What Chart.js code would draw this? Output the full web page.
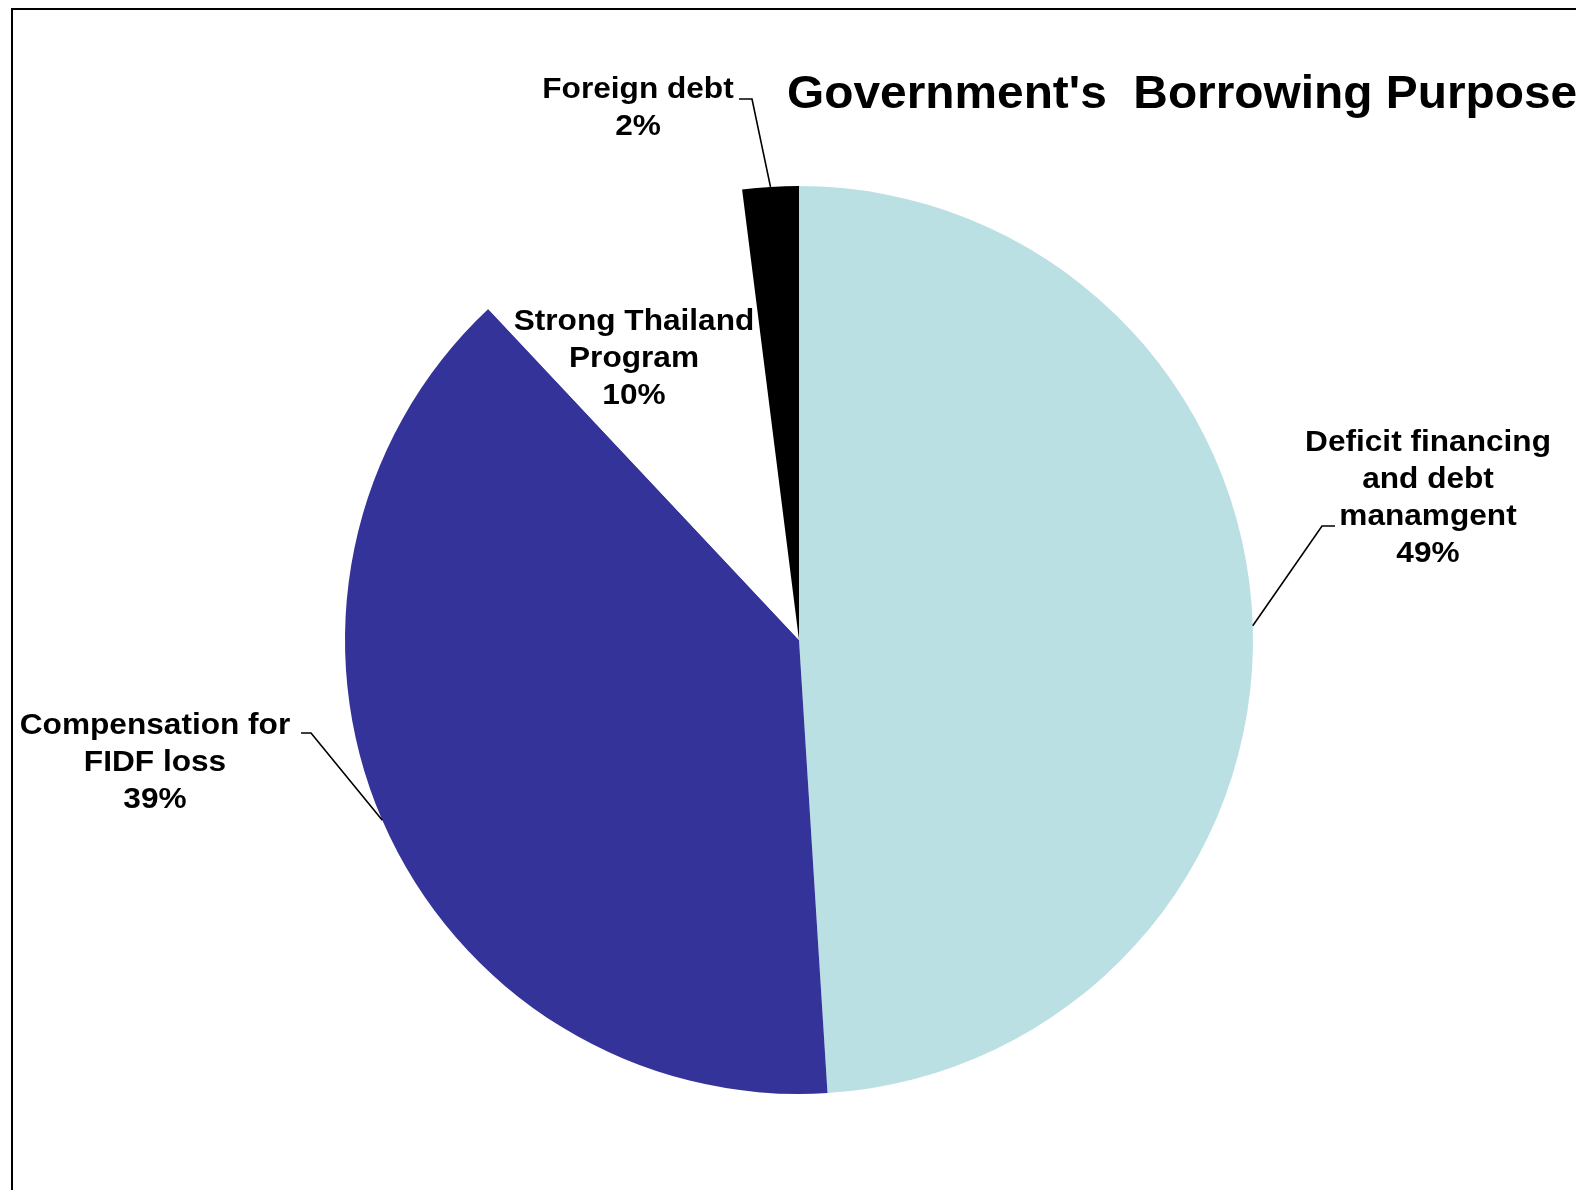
<!DOCTYPE html>
<html>
<head>
<meta charset="utf-8">
<title>Government's Borrowing Purpose</title>
<script src="https://cdn.jsdelivr.net/npm/chart.js@4/dist/chart.umd.min.js"></script>
<style>
  html, body { margin: 0; padding: 0; background: #fff; overflow: hidden; }
  #wrap { position: relative; width: 1576px; height: 1190px; }
</style>
</head>
<body>
<div id="wrap"><canvas id="borrowingChart" width="1576" height="1190"></canvas></div>
<script>
// data
const categories = [
  ['Deficit financing', 'and debt', 'manamgent'],
  ['Compensation for', 'FIDF loss'],
  ['Strong Thailand', 'Program'],
  ['Foreign debt']
];
const shares = [49, 39, 10, 2];
const sliceColors = ['#BBE0E3', '#333399', '#FFFFFF', '#000000'];
const chartTitle = "Government's  Borrowing Purpose";

// label placement, offsets from pie centre (first text line centre, leader knee, tick direction)
const labelLayout = [
  { dx: 629, dy: -197, knee: [523, -114], tick: 13, leader: true },
  { dx: -644, dy: 86, knee: [-488, 93], tick: -10, leader: true },
  { dx: -165, dy: -318, leader: false },
  { dx: -161, dy: -550, knee: [-47, -541], tick: -13, leader: true }
];

const FONT = '"Liberation Sans", Arial, sans-serif';

const decorPlugin = {
  id: 'decor',
  beforeDraw(chart) {
    const ctx = chart.ctx;
    ctx.save();
    ctx.fillStyle = '#fff';
    ctx.fillRect(0, 0, chart.width, chart.height);
    ctx.restore();
  },
  afterDraw(chart) {
    const ctx = chart.ctx;
    const meta = chart.getDatasetMeta(0);
    const total = shares.reduce((a, b) => a + b, 0);

    ctx.save();
    // frame
    ctx.strokeStyle = '#000';
    ctx.lineWidth = 2;
    ctx.beginPath();
    ctx.moveTo(12, chart.height + 5);
    ctx.lineTo(12, 9);
    ctx.lineTo(chart.width + 5, 9);
    ctx.stroke();

    // title (slightly wide lettering, as in the original)
    ctx.fillStyle = '#000';
    ctx.font = 'bold 46px ' + FONT;
    ctx.textAlign = 'left';
    ctx.textBaseline = 'alphabetic';
    ctx.save();
    ctx.translate(787, 108);
    ctx.scale(1.04, 1);
    ctx.fillText(chartTitle, 0, 0);
    ctx.restore();

    // labels
    ctx.font = 'bold 29px ' + FONT;
    ctx.textAlign = 'center';
    ctx.textBaseline = 'middle';
    meta.data.forEach((arc, i) => {
      const { x, y, startAngle, endAngle, outerRadius } = arc.getProps(['x', 'y', 'startAngle', 'endAngle', 'outerRadius'], true);
      const lay = labelLayout[i];
      const lines = categories[i].concat([Math.round(shares[i] / total * 100) + '%']);
      ctx.save();
      ctx.translate(x + lay.dx, y + lay.dy);
      ctx.scale(1.09, 1);
      lines.forEach((t, k) => ctx.fillText(t, 0, k * 37));
      ctx.restore();

      if (lay.leader) {
        const mid = (startAngle + endAngle) / 2;
        const ex = x + Math.cos(mid) * outerRadius;
        const ey = y + Math.sin(mid) * outerRadius;
        const kx = x + lay.knee[0];
        const ky = y + lay.knee[1];
        ctx.strokeStyle = '#000';
        ctx.lineWidth = 1.6;
        ctx.beginPath();
        ctx.moveTo(ex, ey);
        ctx.lineTo(kx, ky);
        ctx.lineTo(kx + lay.tick, ky);
        ctx.stroke();
      }
    });
    ctx.restore();
  }
};

new Chart(document.getElementById('borrowingChart'), {
  type: 'pie',
  data: {
    labels: categories.map(c => c.join(' ')),
    datasets: [{
      data: shares,
      backgroundColor: sliceColors,
      borderWidth: 0,
      hoverOffset: 0
    }]
  },
  options: {
    responsive: false,
    animation: false,
    rotation: 0,
    layout: { padding: { left: 345, right: 323, top: 186, bottom: 96 } },
    plugins: {
      legend: { display: false },
      title: { display: false },
      tooltip: { enabled: false }
    }
  },
  plugins: [decorPlugin]
});
</script>
</body>
</html>
